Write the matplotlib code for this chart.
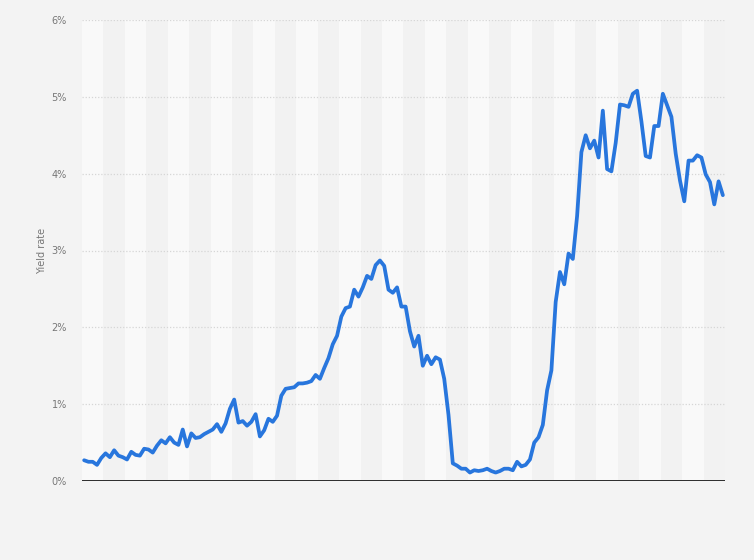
import numpy as np
from matplotlib import pyplot as plt
from matplotlib.ticker import FuncFormatter

# month labels, end of month, Jan 2013 - Jun 2025
years = list(range(2013, 2026))
months = [f'{m:02d}/{y}' for y in years for m in range(1, 13)][:150]

# yield rate in percent
yields = [
    # 2013
    0.27, 0.25, 0.25, 0.21, 0.30, 0.36, 0.31, 0.40, 0.33, 0.31, 0.28, 0.38,
    # 2014
    0.34, 0.33, 0.42, 0.41, 0.37, 0.46, 0.53, 0.49, 0.57, 0.50, 0.47, 0.67,
    # 2015
    0.45, 0.62, 0.56, 0.57, 0.61, 0.64, 0.67, 0.74, 0.64, 0.75, 0.94, 1.06,
    # 2016
    0.76, 0.78, 0.72, 0.77, 0.87, 0.58, 0.66, 0.81, 0.77, 0.85, 1.11, 1.20,
    # 2017
    1.21, 1.22, 1.27, 1.27, 1.28, 1.30, 1.38, 1.33, 1.47, 1.60, 1.78, 1.89,
    # 2018
    2.14, 2.25, 2.27, 2.49, 2.40, 2.52, 2.67, 2.63, 2.81, 2.87, 2.80, 2.49,
    # 2019
    2.45, 2.52, 2.27, 2.27, 1.95, 1.75, 1.89, 1.50, 1.63, 1.52, 1.61, 1.58,
    # 2020
    1.33, 0.86, 0.23, 0.20, 0.16, 0.16, 0.11, 0.14, 0.13, 0.14, 0.16, 0.13,
    # 2021
    0.11, 0.13, 0.16, 0.16, 0.14, 0.25, 0.19, 0.21, 0.28, 0.50, 0.57, 0.73,
    # 2022
    1.18, 1.44, 2.33, 2.72, 2.56, 2.96, 2.89, 3.45, 4.28, 4.50, 4.33, 4.43,
    # 2023
    4.21, 4.82, 4.06, 4.03, 4.40, 4.90, 4.89, 4.87, 5.04, 5.08, 4.68, 4.23,
    # 2024
    4.21, 4.62, 4.62, 5.04, 4.89, 4.74, 4.26, 3.91, 3.64, 4.17, 4.17, 4.24,
    # 2025
    4.21, 3.99, 3.89, 3.60, 3.90, 3.72,
]

x = np.arange(len(months))

fig = plt.figure(figsize=(7.54, 5.60), dpi=100, facecolor='#f3f3f3')
ax = fig.add_axes([82 / 754, 79 / 560, 643 / 754, 461 / 560])
ax.set_facecolor('#f3f3f3')

# alternating background bands, five months each
for k in range(0, len(months), 5):
    shade = '#f9f9f9' if (k // 5) % 2 == 0 else '#f2f2f2'
    ax.axvspan(k - 0.5, k + 4.5, color=shade, lw=0, zorder=0)

for v in range(1, 7):
    ax.axhline(v, color='#d6d6d6', lw=0.9, ls=(0, (1, 1.5)), zorder=1)
ax.axhline(0, color='#2b2b2b', lw=1.4, zorder=3)

ax.plot(x, yields, color='#2876dd', lw=2.7, solid_joinstyle='round',
        solid_capstyle='round', zorder=4)

ax.set_xlim(-0.5, len(months) - 0.5)
ax.set_ylim(0, 6)
ax.set_yticks(range(0, 7))
ax.yaxis.set_major_formatter(FuncFormatter(lambda v, p: f'{v:.0f}%'))
ax.set_xticks([])
ax.tick_params(axis='y', length=0, pad=11, labelsize=7, labelcolor='#777777')
for s in ax.spines.values():
    s.set_visible(False)

ax.set_ylabel('Yield rate', fontsize=7, color='#777777', labelpad=3)

plt.savefig('out.png', dpi=100, facecolor=fig.get_facecolor())
